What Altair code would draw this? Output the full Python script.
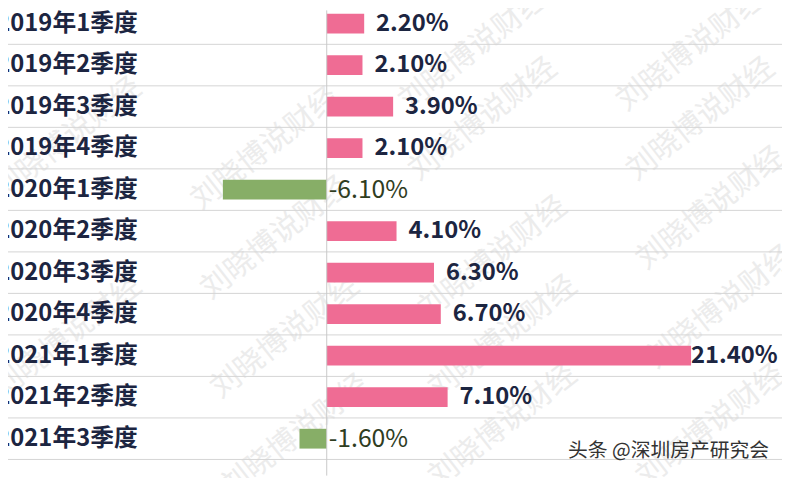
import altair as alt
import pandas as pd

quarters = ["2019年1季度", "2019年2季度", "2019年3季度", "2019年4季度",
            "2020年1季度", "2020年2季度", "2020年3季度", "2020年4季度",
            "2021年1季度", "2021年2季度", "2021年3季度"]
values = [2.2, 2.1, 3.9, 2.1, -6.1, 4.1, 6.3, 6.7, 21.4, 7.1, -1.6]
labels = ["2.20%", "2.10%", "3.90%", "2.10%", "-6.10%", "4.10%",
          "6.30%", "6.70%", "21.40%", "7.10%", "-1.60%"]

footer = "头条 @深圳房产研究会"
watermark = "刘晓博说财经"
wm_x = [470, 690, 260, 480, 700, 60, 270, 490, 710, 60, 280, 500, 720, 290, 500, 710]
wm_y = [40, 40, 140, 110, 110, 130, 230, 250, 200, 330, 330, 330, 300, 430, 420, 420]

df = pd.DataFrame({"q": quarters, "v": values, "lab": labels,
                   "i": list(range(len(quarters)))})
wm = pd.DataFrame({"px": wm_x, "py": wm_y, "t": [watermark] * len(wm_x)})
ft = pd.DataFrame({"t": [footer]})

W, H = 782, 470
FONT = "Noto Sans CJK SC"
NAVY = "#1c2541"

xscale = alt.Scale(domain=[-18.72, 26.74], nice=False, zero=False)
yscale = alt.Scale(domain=[-0.1984, 10.770], nice=False, zero=False, reverse=True)

base = alt.Chart(df)

grid = base.transform_calculate(g="datum.i + 0.5").mark_rule(
    color="#d4d4d4", strokeWidth=1
).encode(
    y=alt.Y("g:Q", scale=yscale, axis=None),
    x=alt.value(0), x2=alt.value(W)
)

wm_layer = alt.Chart(wm).mark_text(
    font=FONT, fontSize=30, angle=322, color="#ececec"
).encode(
    x=alt.X("px:Q", scale=None), y=alt.Y("py:Q", scale=None), text="t:N"
)

bars = base.mark_bar(size=20).encode(
    x=alt.X("v:Q", scale=xscale, axis=None), x2=alt.datum(0),
    y=alt.Y("i:Q", scale=yscale, axis=None),
    color=alt.condition(alt.datum.v < 0, alt.value("#87ae67"), alt.value("#ef6c94"))
)

zero_rule = base.transform_filter(alt.datum.i == 0).transform_calculate(
    z="0"
).mark_rule(color="#c8c8c8", strokeWidth=1).encode(
    x=alt.X("z:Q", scale=xscale, axis=None), y=alt.value(0), y2=alt.value(H)
)

pos_labels = base.transform_filter(alt.datum.v >= 0).transform_calculate(
    lx="datum.v > 20 ? datum.v : datum.v + 0.7"
).mark_text(
    align="left", baseline="middle", font=FONT, fontSize=24, fontWeight="bold",
    color=NAVY
).encode(
    x=alt.X("lx:Q", scale=xscale, axis=None),
    y=alt.Y("i:Q", scale=yscale, axis=None), text="lab:N"
)

neg_labels = base.transform_filter(alt.datum.v < 0).transform_calculate(
    z="0"
).mark_text(
    align="left", baseline="middle", font=FONT, fontSize=25,
    color="#2f3d1f", dx=2
).encode(
    x=alt.X("z:Q", scale=xscale, axis=None),
    y=alt.Y("i:Q", scale=yscale, axis=None), text="lab:N"
)

cat_labels = base.mark_text(
    align="right", baseline="middle", font=FONT, fontSize=24, fontWeight="bold",
    color=NAVY
).encode(
    x=alt.value(131), y=alt.Y("i:Q", scale=yscale, axis=None), text="q:N"
)

foot = alt.Chart(ft).mark_text(
    align="right", baseline="middle", font=FONT, fontSize=20, color="#333333"
).encode(x=alt.value(769), y=alt.value(445), text="t:N")

chart = alt.layer(
    wm_layer, grid, bars, zero_rule, pos_labels, neg_labels, cat_labels, foot
).properties(
    width=W, height=H, padding=0, autosize=alt.AutoSizeParams(type="none"),
    background="white"
).configure_view(stroke=None)

chart.save("out.html", embed_options={"renderer": "svg", "actions": False})
